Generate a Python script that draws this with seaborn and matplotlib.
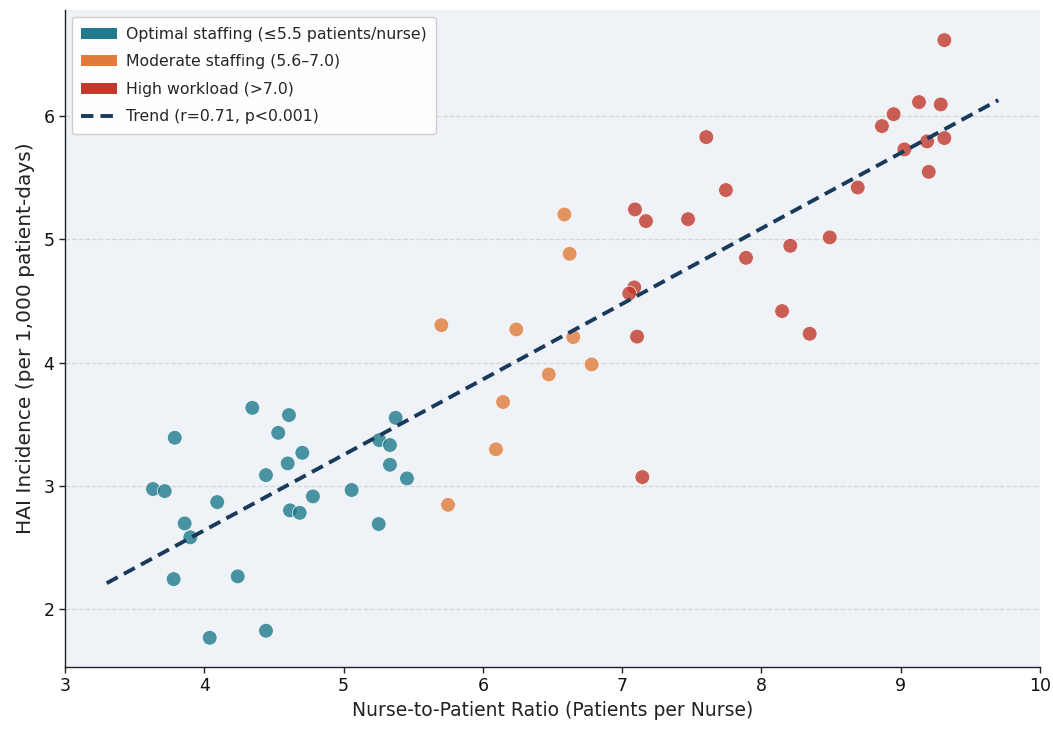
import numpy as np
import pandas as pd
import matplotlib
matplotlib.use("Agg")
import matplotlib.pyplot as plt
import seaborn as sns
from matplotlib.patches import Patch
from matplotlib.lines import Line2D

# ---- data ----
optimal_x = [4.345, 4.608, 3.788, 4.531, 4.704, 4.599, 4.443, 5.256, 5.374, 5.333,
             5.333, 5.455, 3.632, 3.716, 4.093, 4.780, 5.058, 4.615, 4.685, 3.859,
             3.900, 5.252, 3.780, 4.240, 4.039, 4.443]
optimal_y = [3.633, 3.574, 3.390, 3.430, 3.268, 3.182, 3.087, 3.371, 3.552, 3.331,
             3.171, 3.060, 2.974, 2.957, 2.868, 2.914, 2.966, 2.801, 2.781, 2.695,
             2.582, 2.690, 2.243, 2.265, 1.767, 1.824]

moderate_x = [6.585, 6.623, 5.702, 6.240, 6.649, 6.781, 6.473, 6.145, 6.094, 5.750]
moderate_y = [5.202, 4.883, 4.304, 4.269, 4.207, 3.985, 3.904, 3.680, 3.296, 2.846]

high_x = [7.092, 7.171, 7.087, 7.051, 7.107, 7.145, 9.313, 9.131, 9.287, 8.949,
          8.865, 7.604, 9.189, 9.313, 9.026, 9.201, 7.745, 8.691, 7.473, 8.490,
          8.207, 7.889, 8.148, 8.346]
high_y = [5.243, 5.148, 4.610, 4.561, 4.211, 3.071, 6.617, 6.114, 6.095, 6.016,
          5.919, 5.830, 5.795, 5.822, 5.730, 5.548, 5.400, 5.421, 5.164, 5.016,
          4.948, 4.850, 4.418, 4.234]

trend_x = [3.3, 9.7]
trend_y = [2.21, 6.13]

categories = ["Optimal staffing (≤5.5 patients/nurse)",
              "Moderate staffing (5.6–7.0)",
              "High workload (>7.0)"]
trend_label = "Trend (r=0.71, p<0.001)"
colors = ["#1f7a8c", "#e07b39", "#c0392b"]
xlabel = "Nurse-to-Patient Ratio (Patients per Nurse)"
ylabel = "HAI Incidence (per 1,000 patient-days)"

df = pd.DataFrame({
    "x": optimal_x + moderate_x + high_x,
    "y": optimal_y + moderate_y + high_y,
    "group": [categories[0]] * len(optimal_x) + [categories[1]] * len(moderate_x)
             + [categories[2]] * len(high_x),
})

sns.set_theme(style="white")
plt.rcParams["font.family"] = ["DejaVu Sans"]

fig = plt.figure(figsize=(10.53, 7.31), dpi=100)
ax = fig.add_axes([0.0617, 0.0876, 0.9260, 0.8985])
ax.set_facecolor("#eff3f8")

palette = dict(zip(categories, colors))
sns.scatterplot(data=df, x="x", y="y", hue="group", palette=palette, s=112,
                alpha=0.8, edgecolor="white", linewidth=0.6, legend=False,
                ax=ax, zorder=3)
sns.lineplot(x=trend_x, y=trend_y, ax=ax, color="#1a3a5c", linewidth=2.8,
             linestyle=(0, (3.2, 1.8)), zorder=4)

ax.set_xlim(3, 10)
ax.set_ylim(1.53, 6.86)
ax.set_yticks([2, 3, 4, 5, 6])
ax.set_xticks([3, 4, 5, 6, 7, 8, 9, 10])
ax.yaxis.grid(True, color="#d3d6da", linestyle="--", linewidth=0.9)
ax.xaxis.grid(False)
ax.set_axisbelow(True)

for s in ["top", "right"]:
    ax.spines[s].set_visible(False)
for s in ["left", "bottom"]:
    ax.spines[s].set_color("#222222")
    ax.spines[s].set_linewidth(1.0)
ax.tick_params(axis="both", which="both", length=4, width=1, color="#222222",
               labelsize=12.5, bottom=True, left=True, labelcolor="#111111")

ax.set_xlabel(xlabel, fontsize=13.5, color="#222222")
ax.set_ylabel(ylabel, fontsize=14.5, color="#222222", labelpad=6)

handles = [Patch(facecolor=c, edgecolor="none", label=l) for c, l in zip(colors, categories)]
handles.append(Line2D([0], [0], color="#1a3a5c", linewidth=2.8,
                      linestyle=(0, (3.2, 1.8)), label=trend_label))
leg = ax.legend(handles=handles, loc="upper left", fontsize=11.3, frameon=True,
                facecolor="white", edgecolor="#cccccc", framealpha=0.95,
                borderpad=0.6, labelspacing=0.8, handlelength=2.25,
                handletextpad=0.6, borderaxespad=0.45)

fig.savefig("out.png", dpi=100)
